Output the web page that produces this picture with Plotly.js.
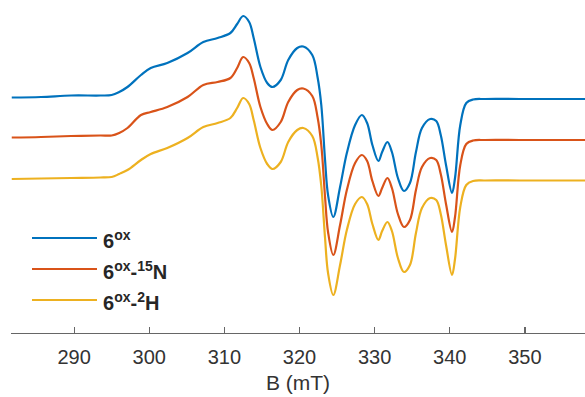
<!DOCTYPE html>
<html>
<head>
<meta charset="utf-8">
<script src="https://cdn.plot.ly/plotly-3.0.1.min.js"></script>
<style>html,body{margin:0;padding:0;background:#fff;}#chart{width:585px;height:397px;}</style>
</head>
<body>
<div id="chart"></div>
<script>
// Magnetic field (mT)
const fieldB = [281.7, 285.6, 289.6, 293.5, 295.0, 296.0, 297.1, 298.9, 300.2, 302.4, 305.1,
  307.2, 309.1, 310.8, 311.7, 312.5, 313.3, 313.9, 314.8, 315.7, 316.4,
  317.5, 318.5, 319.7, 320.5, 321.7, 322.4, 322.9, 323.4, 323.8, 324.5,
  325.4, 326.3, 327.4, 328.3, 329.0, 329.7, 330.5, 331.0, 331.7, 332.3,
  333.1, 333.9, 334.7, 335.5, 336.3, 337.4, 338.2, 338.8, 339.5, 340.3,
  340.7, 341.4, 342.2, 343.1, 344.7, 349.3, 358.0];

// EPR derivative signals (arbitrary units, stacked for display)
const sig6ox = [235.5, 236, 237.5, 237.5, 238, 241, 246, 258, 265, 270, 280,
  291, 295, 300, 309, 317, 311, 295, 266, 250, 246,
  253, 273, 285, 286.5, 278, 256, 228, 173, 138, 116,
  146, 180, 208, 218, 210, 188, 172, 181, 191, 181,
  155, 142, 150, 181, 205, 214, 212, 198, 168, 140,
  155, 208, 230, 233.5, 234, 234, 234];
const sig6ox15N = [195.5, 196, 197, 197.5, 197.5, 200, 205, 218, 221, 226, 236,
  248, 251, 255, 265, 276, 270, 255, 226, 209, 203,
  211, 231, 243, 244.5, 237, 216, 188, 136, 101, 78,
  108, 143, 170, 178, 172, 152, 137, 145, 155, 145,
  119, 106, 113, 143, 166, 175, 173, 159, 129, 101,
  116, 168, 189, 192.5, 193, 193, 193];
const sig6ox2H = [154, 154.5, 155, 155.5, 156, 159, 163, 173, 179, 185, 195,
  206, 210, 215, 225, 235, 229, 213, 185, 169, 164,
  171, 191, 203, 205, 197, 176, 147, 95, 60, 38,
  68, 103, 129, 136, 129, 109, 93, 102, 111, 102,
  75, 61, 68, 100, 125, 135, 133, 119, 88, 58,
  74, 126, 148, 152, 152.5, 152.5, 152.5];

const seriesNames = ['6<sup>ox</sup>', '6<sup>ox</sup>-<sup>15</sup>N', '6<sup>ox</sup>-<sup>2</sup>H'];
const seriesColors = ['#0072BD', '#D95319', '#EDB120'];
const seriesData = [sig6ox, sig6ox15N, sig6ox2H];
const xTicks = [290, 300, 310, 320, 330, 340, 350];

const traces = seriesData.map((ys, i) => ({
  x: fieldB, y: ys, type: 'scatter', mode: 'lines', name: seriesNames[i],
  line: {color: seriesColors[i], width: 2.2, shape: 'spline', smoothing: 1},
  showlegend: false, hoverinfo: 'skip'
}));

// manual legend (long sample lines like the original)
const legendRowsY = [0.2853, 0.1922, 0.0991];
const shapes = legendRowsY.map((yy, i) => ({
  type: 'line', xref: 'paper', yref: 'paper', x0: 0.0366, x1: 0.1498, y0: yy, y1: yy,
  line: {color: seriesColors[i], width: 2}
}));
const annotations = legendRowsY.map((yy, i) => ({
  xref: 'paper', yref: 'paper', x: 0.157, y: yy - 0.006, xanchor: 'left', yanchor: 'middle',
  text: '<b>' + seriesNames[i] + '</b>', showarrow: false,
  font: {family: 'Liberation Sans, Arial, sans-serif', size: 20, color: '#262626'}
}));

const layout = {
  width: 585, height: 397,
  margin: {l: 11, r: 0, t: 0, b: 64},
  paper_bgcolor: '#ffffff', plot_bgcolor: '#ffffff',
  showlegend: false,
  xaxis: {
    range: [281.6, 358.0], tickvals: xTicks, ticktext: xTicks.map(String),
    ticks: 'inside', ticklen: 6, tickwidth: 1.2, tickcolor: '#666',
    showline: true, linecolor: '#666', linewidth: 1.2,
    showgrid: false, zeroline: false, ticklabelstandoff: 6,
    tickfont: {family: 'Liberation Sans, Arial, sans-serif', size: 20, color: '#333'},
    title: {text: 'B (mT)', standoff: 8, font: {family: 'Liberation Sans, Arial, sans-serif', size: 21, color: '#333'}}
  },
  yaxis: {range: [0, 333], visible: false, showgrid: false, zeroline: false},
  shapes: shapes,
  annotations: annotations
};

Plotly.newPlot('chart', traces, layout, {displayModeBar: false, staticPlot: true});
</script>
</body>
</html>
